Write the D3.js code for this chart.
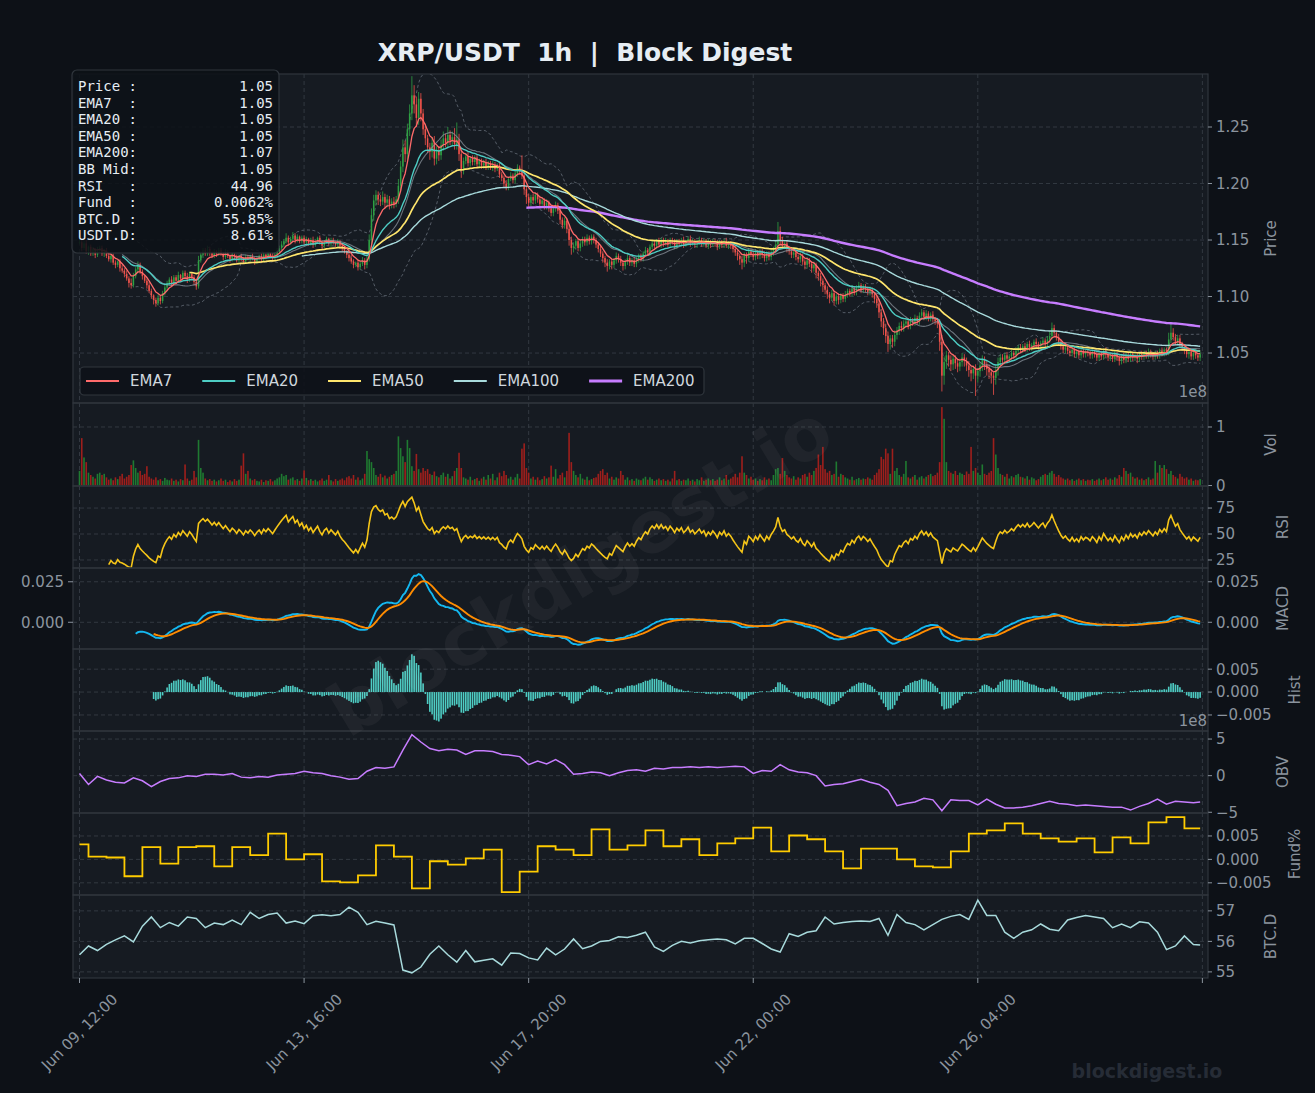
<!DOCTYPE html>
<html lang="en">
<head>
<meta charset="UTF-8">
<title>XRP/USDT 1h | Block Digest</title>
<script src="https://d3js.org/d3.v7.min.js"></script>
<style>
  html, body { margin: 0; padding: 0; background: #0d1117; }
  svg { display: block; }
</style>
</head>
<body>
<div id="chart"></div>
<script>
// ---- data: 500 hourly bars starting Jun 09, 12:00 ----
var closes = [
1.148,1.143,1.147,1.140,1.144,1.138,1.142,1.137,1.141,1.143,
1.138,1.141,1.136,1.133,1.136,1.130,1.128,1.131,1.125,1.123,
1.120,1.116,1.112,1.110,1.118,1.124,1.128,1.122,1.118,1.114,
1.110,1.105,1.101,1.097,1.094,1.099,1.096,1.103,1.108,1.112,
1.115,1.112,1.117,1.114,1.119,1.116,1.121,1.118,1.115,1.120,
1.117,1.113,1.109,1.132,1.137,1.141,1.138,1.142,1.139,1.136,
1.140,1.137,1.141,1.138,1.135,1.139,1.136,1.133,1.137,1.135,
1.132,1.136,1.134,1.131,1.135,1.133,1.136,1.134,1.131,1.134,
1.136,1.133,1.137,1.135,1.138,1.136,1.134,1.137,1.140,1.143,
1.146,1.149,1.152,1.148,1.151,1.154,1.150,1.153,1.149,1.152,
1.148,1.151,1.147,1.150,1.146,1.149,1.152,1.148,1.145,1.149,
1.151,1.147,1.150,1.148,1.146,1.149,1.145,1.142,1.140,1.137,
1.134,1.131,1.128,1.130,1.126,1.129,1.132,1.128,1.133,1.150,
1.172,1.185,1.190,1.186,1.184,1.188,1.183,1.186,1.181,1.184,
1.182,1.186,1.198,1.215,1.232,1.226,1.248,1.262,1.278,1.270,
1.258,1.275,1.262,1.248,1.240,1.232,1.228,1.236,1.222,1.229,
1.225,1.234,1.240,1.236,1.243,1.238,1.241,1.235,1.239,1.226,
1.212,1.220,1.224,1.218,1.222,1.219,1.223,1.217,1.220,1.216,
1.219,1.215,1.218,1.214,1.217,1.213,1.216,1.208,1.205,1.200,
1.197,1.204,1.207,1.203,1.209,1.214,1.211,1.207,1.195,1.188,
1.183,1.188,1.185,1.190,1.186,1.182,1.185,1.180,1.183,1.178,
1.174,1.178,1.181,1.176,1.168,1.163,1.167,1.160,1.150,1.143,
1.145,1.149,1.143,1.147,1.151,1.148,1.152,1.149,1.153,1.150,
1.146,1.142,1.138,1.134,1.130,1.127,1.131,1.128,1.132,1.136,
1.133,1.130,1.127,1.131,1.134,1.130,1.132,1.129,1.133,1.136,
1.134,1.138,1.141,1.139,1.144,1.147,1.145,1.149,1.146,1.150,
1.147,1.149,1.146,1.150,1.148,1.145,1.149,1.147,1.150,1.146,
1.148,1.151,1.147,1.149,1.146,1.148,1.150,1.147,1.149,1.145,
1.148,1.146,1.149,1.147,1.144,1.148,1.146,1.149,1.145,1.147,
1.145,1.142,1.139,1.136,1.133,1.130,1.137,1.134,1.140,1.138,
1.135,1.139,1.136,1.140,1.137,1.134,1.138,1.135,1.139,1.142,
1.146,1.158,1.150,1.145,1.147,1.142,1.140,1.137,1.139,1.135,
1.133,1.136,1.131,1.128,1.132,1.129,1.125,1.128,1.121,1.118,
1.114,1.110,1.106,1.102,1.099,1.103,1.096,1.100,1.097,1.101,
1.098,1.102,1.105,1.103,1.107,1.104,1.108,1.110,1.106,1.109,
1.107,1.104,1.106,1.102,1.098,1.094,1.086,1.078,1.072,1.065,
1.058,1.063,1.060,1.066,1.070,1.074,1.072,1.076,1.078,1.074,
1.079,1.077,1.081,1.078,1.083,1.086,1.082,1.085,1.081,1.084,
1.080,1.078,1.076,1.060,1.030,1.042,1.048,1.044,1.040,1.045,
1.041,1.038,1.042,1.046,1.043,1.039,1.035,1.032,1.036,1.030,
1.034,1.039,1.044,1.040,1.036,1.033,1.030,1.028,1.035,1.042,
1.046,1.044,1.048,1.045,1.047,1.050,1.048,1.052,1.055,1.053,
1.056,1.054,1.058,1.055,1.057,1.060,1.058,1.056,1.059,1.061,
1.058,1.062,1.065,1.072,1.068,1.064,1.060,1.056,1.053,1.055,
1.052,1.050,1.053,1.049,1.051,1.048,1.052,1.049,1.051,1.050,
1.048,1.051,1.049,1.046,1.050,1.047,1.052,1.049,1.046,1.048,
1.045,1.049,1.046,1.043,1.047,1.044,1.048,1.045,1.049,1.046,
1.048,1.045,1.049,1.047,1.050,1.048,1.051,1.049,1.047,1.050,
1.048,1.052,1.050,1.053,1.051,1.062,1.068,1.064,1.060,1.063,
1.058,1.055,1.052,1.049,1.051,1.047,1.050,1.048,1.046,1.049
];

// upper / lower wick beyond the body, in 0.001 price units
var wickHi = [
3,2,2,3,1,2,2,1,3,2, 2,1,2,3,1,2,2,1,2,3, 2,3,2,4,3,2,3,2,2,1, 2,3,2,1,2,3,2,2,3,2,
2,3,2,2,3,1,2,2,3,2, 1,2,2,4,3,2,2,3,2,1, 2,1,2,2,1,3,2,1,2,1, 2,1,2,1,2,2,1,2,1,2,
1,2,2,1,2,1,2,2,3,2, 3,2,4,2,2,3,2,2,1,2, 2,2,1,2,3,2,1,2,2,1, 2,1,2,2,1,2,1,2,2,1,
2,3,2,1,2,2,3,2,4,5, 6,5,4,3,4,5,3,4,3,3, 4,3,6,5,7,6,5,8,17,9, 7,6,5,4,5,3,4,5,6,4,
4,5,6,4,7,4,5,8,15,5, 4,3,3,4,2,3,2,3,2,2, 2,3,2,2,3,2,2,3,2,2, 3,2,3,2,4,3,2,14,4,3,
3,2,3,2,2,3,2,2,3,2, 3,2,3,2,3,2,3,2,4,3, 3,2,2,3,2,2,3,2,2,2, 2,2,3,2,2,3,2,2,2,3,
2,3,2,2,3,2,2,3,2,2, 2,2,3,2,2,3,2,2,3,2, 2,3,2,2,2,3,2,2,2,3, 2,2,3,2,2,2,3,2,2,2,
3,2,2,2,3,2,2,2,3,2, 2,2,3,2,2,3,2,2,3,2, 2,3,2,2,2,3,2,2,3,2, 3,8,4,3,2,3,2,2,3,2,
2,3,2,2,3,2,2,3,2,2, 3,2,2,3,2,3,2,2,3,2, 2,3,2,2,3,2,2,3,2,2, 2,2,3,2,2,3,4,3,3,4,
4,3,3,4,3,3,4,3,3,3, 3,2,3,2,3,3,2,3,2,2, 3,2,2,4,6,5,4,3,4,3, 3,4,3,4,3,3,4,3,3,4,
3,3,4,3,3,4,3,3,4,4, 3,3,2,3,2,3,2,3,2,3, 2,3,2,3,2,2,3,2,2,3, 2,3,4,5,3,2,3,2,2,2,
2,2,3,2,2,2,3,2,2,2, 2,2,2,3,2,2,2,3,2,2, 2,3,2,2,2,3,2,2,3,2, 2,2,2,3,2,2,3,2,2,2,
2,2,3,2,2,6,9,4,3,3, 3,2,2,3,2,2,3,2,2,2
];
var wickLo = [
2,3,2,2,3,2,2,3,2,2, 2,3,2,2,3,2,3,2,3,2, 3,2,4,3,2,2,3,2,3,2, 3,2,3,4,3,2,3,2,2,3,
2,3,2,3,2,3,2,2,3,2, 2,3,3,2,2,3,2,2,3,2, 2,2,1,2,3,2,2,3,2,2, 2,2,3,2,2,1,2,2,3,2,
2,3,2,2,1,2,3,2,2,2, 2,2,2,3,2,2,3,2,2,2, 3,2,2,2,3,2,2,2,3,2, 2,2,3,2,2,2,3,2,2,3,
3,2,3,2,3,2,2,4,3,2, 4,5,4,5,4,3,5,4,4,3, 4,3,4,5,5,7,5,6,6,8, 8,6,7,5,6,5,7,5,6,5,
5,4,5,4,5,4,4,5,5,6, 7,4,3,3,3,3,3,3,3,3, 3,3,3,2,3,3,2,3,3,3, 3,3,2,3,3,3,3,3,5,6,
4,3,3,3,3,3,3,3,3,3, 3,3,3,3,4,3,3,4,5,6, 4,3,3,3,3,3,3,3,3,3, 3,3,3,4,4,5,3,4,3,3,
3,3,4,3,3,3,3,3,3,3, 3,3,2,3,3,2,3,3,2,3, 3,2,3,3,2,3,3,2,3,3, 2,3,3,2,3,3,2,3,3,2,
3,3,2,3,3,2,3,3,2,3, 3,3,3,4,5,6,4,5,3,3, 3,3,3,3,3,3,3,3,3,3, 3,3,4,3,3,3,3,3,3,3,
3,3,3,4,3,3,4,3,5,4, 5,6,4,4,5,3,4,3,4,3, 3,3,3,3,3,3,3,3,3,3, 3,3,3,3,4,4,5,5,6,6,
7,5,5,4,4,4,3,3,3,3, 3,3,3,3,3,3,3,3,3,3, 3,3,4,8,14,8,6,6,6,5, 5,5,4,4,5,5,6,7,5,18,
6,5,5,5,6,6,7,15,6,5, 4,4,4,4,3,3,3,3,3,3, 3,3,3,3,3,3,3,3,3,3, 3,3,3,3,3,3,3,3,3,3,
3,3,3,3,3,3,3,3,3,3, 3,3,3,3,3,3,3,3,3,3, 3,3,3,4,3,3,3,3,3,3, 3,4,3,3,3,3,3,3,3,3,
3,3,3,3,3,3,3,3,3,3, 3,3,3,3,4,3,3,3,3,3
];

// volume, millions
var volume = [
25,81,48,40,22,18,15,12,20,22, 18,20,14,10,12,9,14,11,16,20, 12,15,18,35,43,30,22,25,18,20,
33,15,12,10,14,9,11,8,13,10, 9,12,8,10,7,11,9,36,12,8, 10,25,14,78,30,22,12,9,11,8,
10,7,9,12,8,10,6,9,7,11, 8,10,34,55,20,25,12,9,11,8, 7,10,6,9,8,11,7,9,12,14,
20,16,18,10,12,14,9,11,8,12, 26,13,9,11,8,10,7,9,12,8, 10,18,9,7,11,8,10,12,9,14,
16,12,18,10,14,9,12,20,59,45, 40,30,18,15,20,14,17,12,15,18, 20,25,84,64,50,40,78,64,33,25,
54,28,22,30,25,28,20,18,24,16, 14,18,22,15,20,12,16,25,30,56, 30,14,12,10,15,9,11,13,8,12,
15,10,18,12,20,9,14,22,16,25, 18,12,15,10,14,20,12,63,72,30, 22,12,15,10,14,9,11,16,12,14,
34,15,28,12,18,22,14,25,90,40, 25,18,14,20,12,10,15,9,11,13, 14,20,25,28,18,22,12,15,10,14,
12,25,18,10,14,9,11,8,12,10, 9,12,15,10,14,11,8,10,12,9, 11,8,10,7,12,25,9,11,8,10,
9,12,8,10,7,11,9,14,8,10, 12,9,11,8,10,14,9,12,18,10, 12,15,20,14,22,50,22,18,12,15,
10,12,8,11,9,14,10,12,9,18, 28,30,20,47,25,18,14,12,16,10, 14,12,18,20,15,22,18,25,30,53,
35,66,28,22,25,18,20,41,15,20, 18,14,12,10,15,9,11,13,10,12, 11,14,12,10,18,22,28,49,45,63,
55,20,63,25,30,18,15,20,42,14, 12,15,18,10,14,16,12,15,18,20, 16,18,22,40,134,114,40,25,22,20,
25,18,22,20,18,24,20,66,25,30, 22,18,36,20,18,22,25,81,53,30, 20,18,15,20,12,16,14,18,20,15,
14,12,16,10,14,12,9,11,15,18, 20,18,22,25,20,15,18,14,12,10, 12,9,11,8,10,12,9,11,8,10,
9,11,8,10,12,9,11,14,10,12, 10,14,12,18,15,30,25,20,22,15, 12,14,10,12,9,11,14,10,12,42,
22,35,30,35,28,20,25,18,15,12, 20,15,12,14,10,12,8,10,9,11
];

// OBV (x 1e8), one reading every 4 bars, last one at the final bar
var obv = [
0.3,-1.2,-0.1,-0.6,-0.9,-1.0,-0.3,-0.7,-1.5,-0.8,
-0.4,-0.3,0.0,-0.1,0.2,0.2,0.1,0.3,-0.2,-0.3,
-0.1,-0.2,0.1,0.2,0.3,0.6,0.4,0.3,0.0,-0.2,
-0.5,-0.4,0.6,1.1,1.0,1.2,3.5,5.6,4.6,3.7,
3.4,3.6,3.5,2.9,3.4,3.4,3.3,2.9,2.8,2.6,
1.5,2.0,1.6,2.2,1.5,0.2,0.3,0.5,0.4,0.0,
0.4,0.7,0.8,0.6,1.0,0.9,1.1,1.1,1.2,1.1,
1.2,1.1,1.2,1.3,1.2,0.3,0.7,0.6,1.5,0.8,
0.5,0.4,0.0,-1.4,-1.2,-1.1,-0.8,-0.5,-0.9,-1.2,
-2.0,-4.1,-3.8,-3.6,-3.1,-3.3,-4.8,-3.3,-3.4,-3.4,
-4.0,-3.2,-3.9,-4.4,-4.4,-4.3,-4.1,-3.8,-3.5,-3.8,
-3.9,-4.1,-4.0,-4.1,-4.2,-4.3,-4.3,-4.7,-4.2,-3.8,
-3.2,-3.9,-3.5,-3.6,-3.7,-3.6
];

// BTC dominance %, one reading every 4 bars, last one at the final bar
var btcDom = [
55.56,55.85,55.70,55.90,56.05,56.18,55.98,56.50,56.80,56.45,
56.62,56.50,56.80,56.75,56.45,56.60,56.55,56.70,56.55,56.95,
56.75,56.88,56.93,56.60,56.67,56.58,56.84,56.87,56.84,56.88,
57.12,56.95,56.55,56.66,56.60,56.54,55.06,54.97,55.16,55.58,
55.85,55.56,55.32,55.70,55.33,55.38,55.43,55.22,55.62,55.60,
55.46,55.39,55.78,55.56,55.75,56.08,55.76,55.85,56.00,56.03,
56.15,56.13,56.20,56.30,55.82,55.67,55.87,56.00,55.95,56.02,
56.05,56.08,56.05,55.92,56.10,56.10,55.93,55.75,55.65,56.25,
56.16,56.30,56.35,56.80,56.57,56.62,56.65,56.67,56.65,56.75,
56.20,56.88,56.62,56.55,56.38,56.55,56.72,56.82,56.88,56.72,
57.35,56.85,56.85,56.30,56.10,56.30,56.38,56.57,56.40,56.35,
56.70,56.78,56.85,56.80,56.75,56.45,56.57,56.45,56.64,56.60,
56.30,55.73,55.85,56.18,55.90,55.88
];

// funding rate %, first value until 16:00, then one per 8h period
var funding = [
0.0032,
0.0006,0.0004,-0.0036,0.0026,-0.0009,0.0026,0.0028,-0.0015,0.0026,0.0009,
0.0055,0.0000,0.0011,-0.0047,-0.0049,-0.0034,0.0030,0.0006,-0.0062,-0.0004,
-0.0011,0.0002,0.0021,-0.0070,-0.0026,0.0028,0.0021,0.0009,0.0064,0.0021,
0.0030,0.0062,0.0028,0.0043,0.0009,0.0034,0.0045,0.0068,0.0017,0.0051,
0.0043,0.0017,-0.0019,0.0023,0.0023,0.0000,-0.0015,-0.0017,0.0017,0.0055,
0.0062,0.0077,0.0055,0.0045,0.0038,0.0045,0.0015,0.0047,0.0034,0.0079,
0.0090,0.0066
];

var xTicks = [0, 100, 200, 300, 400, 500];
var xTickLabels = ["Jun 09, 12:00", "Jun 13, 16:00", "Jun 17, 20:00", "Jun 22, 00:00", "Jun 26, 04:00", ""];

var emaSpans = [7, 20, 50, 100, 200];
var emaNames = ["EMA7", "EMA20", "EMA50", "EMA100", "EMA200"];

var infoLabels = ["Price :", "EMA7  :", "EMA20 :", "EMA50 :", "EMA200:", "BB Mid:", "RSI   :", "Fund  :", "BTC.D :", "USDT.D:"];
var infoValues = ["1.05", "1.05", "1.05", "1.05", "1.07", "1.05", "44.96", "0.0062%", "55.85%", "8.61%"];

// ---- styling ----
var emaColors = ["#ff6b6b", "#4ecdc4", "#ffe66d", "#a8dadc", "#c77dff"];
var emaWidths = [1.3, 1.4, 1.7, 1.4, 2.4];
var upColor = "#2ea043", downColor = "#f0524a";
var volUp = "#1f7a31", volDown = "#9e1f1c";
var gridColor = "#3a4049", tickColor = "#8b949e", spineColor = "#30363d";
var SANS = "DejaVu Sans, sans-serif", MONO = "DejaVu Sans Mono, monospace";
var FS = 15;

var W = 1315, H = 1093, L = 73, R = 1208;
var n = closes.length;

// ---- indicators ----
function emaSeries(src, span) {
    var a = 2 / (span + 1), prev = null;
    return src.map(function (v) {
        if (v == null) return null;
        prev = prev == null ? v : a * v + (1 - a) * prev;
        return prev;
    });
}
function fromIndex(arr, start) {
    return arr.map(function (v, i) { return i < start ? null : v; });
}

var emaLines = emaSpans.map(function (s) { return fromIndex(emaSeries(closes, s), s - 1); });

var bbMid = [], bbUp = [], bbLo = [];
closes.forEach(function (c, i) {
    if (i < 19) { bbMid.push(null); bbUp.push(null); bbLo.push(null); return; }
    var win = closes.slice(i - 19, i + 1);
    var m = d3.mean(win), sd = d3.deviation(win);
    bbMid.push(m); bbUp.push(m + 2 * sd); bbLo.push(m - 2 * sd);
});

var rsi = closes.map(function () { return null; });
var ag = 0, al = 0;
for (var i = 1; i < n; i++) {
    var dlt = closes[i] - closes[i - 1];
    var g = Math.max(dlt, 0), l = Math.max(-dlt, 0);
    if (i === 1) { ag = g; al = l; } else { ag += (g - ag) / 14; al += (l - al) / 14; }
    if (i >= 13) rsi[i] = al === 0 ? 100 : 100 - 100 / (1 + ag / al);
}

var e12 = emaSeries(closes, 12), e26 = emaSeries(closes, 26);
var macd = closes.map(function (c, i) { return i < 25 ? null : e12[i] - e26[i]; });
var signal = fromIndex(emaSeries(macd, 9), 33);
var hist = macd.map(function (v, i) { return signal[i] == null ? null : v - signal[i]; });

var candles = closes.map(function (c, i) {
    var o = i === 0 ? c : closes[i - 1];
    return { i: i, o: o, c: c, h: Math.max(o, c) + wickHi[i] / 1000, l: Math.min(o, c) - wickLo[i] / 1000 };
});

function sparseIndex(k) { return Math.min(k * 4, n - 1); }

var fundPts = funding.map(function (v, k) { return [k === 0 ? 0 : 4 + 8 * (k - 1), v]; });
fundPts.push([n - 1, funding[funding.length - 1]]);

// ---- layout ----
var fmt2 = d3.format(".2f"), fmt3 = d3.format(".3f"), fmtI = d3.format("d");
var panels = [
    { id: "price", top: 74, bottom: 403, domain: [1.0058, 1.2969], ticks: [1.05, 1.10, 1.15, 1.20, 1.25], fmt: fmt2, title: "Price", tx: 1271 },
    { id: "vol", top: 403, bottom: 486, domain: [-0.8, 141], ticks: [0, 100], fmt: function (d) { return fmtI(d / 100); }, title: "Vol", tx: 1271 },
    { id: "rsi", top: 486, bottom: 568, domain: [17.3, 96.2], ticks: [25, 50, 75], fmt: fmtI, title: "RSI", tx: 1283 },
    { id: "macd", top: 568, bottom: 649, domain: [-0.0165, 0.0335], ticks: [0, 0.025], fmt: fmt3, title: "MACD", tx: 1283 },
    { id: "hist", top: 649, bottom: 731, domain: [-0.0085, 0.0094], ticks: [-0.005, 0, 0.005], fmt: fmt3, title: "Hist", tx: 1295 },
    { id: "obv", top: 731, bottom: 813, domain: [-5.1, 6.1], ticks: [-5, 0, 5], fmt: fmtI, title: "OBV", tx: 1283 },
    { id: "fund", top: 813, bottom: 895, domain: [-0.0076, 0.0099], ticks: [-0.005, 0, 0.005], fmt: fmt3, title: "Fund%", tx: 1295 },
    { id: "btcd", top: 895, bottom: 978, domain: [54.8, 57.52], ticks: [55, 56, 57], fmt: fmtI, title: "BTC.D", tx: 1271 }
];
var P = {};
panels.forEach(function (p) {
    p.y = d3.scaleLinear().domain(p.domain).range([p.bottom, p.top]);
    P[p.id] = p;
});

var x = d3.scaleLinear().domain([-2.9, 502.5]).range([L, R]);

var svg = d3.select("#chart").append("svg")
    .attr("width", W).attr("height", H)
    .attr("font-family", SANS);

svg.append("rect").attr("width", W).attr("height", H).attr("fill", "#0d1117");

var defs = svg.append("defs");
panels.forEach(function (p) {
    defs.append("clipPath").attr("id", "clip-" + p.id)
        .append("rect").attr("x", L).attr("y", p.top).attr("width", R - L).attr("height", p.bottom - p.top);
    svg.append("rect").attr("x", L).attr("y", p.top).attr("width", R - L).attr("height", p.bottom - p.top)
        .attr("fill", "#161b22");
});

// grid
var grid = svg.append("g").attr("stroke", gridColor).attr("stroke-width", 0.8).attr("stroke-dasharray", "4,3");
panels.forEach(function (p) {
    p.ticks.forEach(function (t) {
        var yy = p.y(t);
        if (yy > p.bottom - 1.5) return;
        grid.append("line").attr("x1", L).attr("x2", R).attr("y1", yy).attr("y2", yy);
    });
    xTicks.forEach(function (t) {
        grid.append("line").attr("x1", x(t)).attr("x2", x(t)).attr("y1", p.top).attr("y2", p.bottom);
    });
});

function layer(id) { return svg.append("g").attr("clip-path", "url(#clip-" + id + ")"); }
function pts(arr) { return arr.map(function (v, i) { return [i, v]; }); }
function lineFor(p, curve) {
    return d3.line().defined(function (d) { return d[1] != null; })
        .x(function (d) { return x(d[0]); }).y(function (d) { return p.y(d[1]); })
        .curve(curve || d3.curveLinear);
}

// ---- price panel ----
var gp = layer("price");
var lp = lineFor(P.price);
[bbUp, bbLo].forEach(function (b) {
    gp.append("path").attr("d", lp(pts(b))).attr("fill", "none")
        .attr("stroke", "#6e7681").attr("stroke-width", 0.9).attr("stroke-dasharray", "3,2.5").attr("opacity", 0.8);
});

gp.selectAll("line.wick").data(candles).enter().append("line")
    .attr("x1", function (d) { return x(d.i); }).attr("x2", function (d) { return x(d.i); })
    .attr("y1", function (d) { return P.price.y(d.h); }).attr("y2", function (d) { return P.price.y(d.l); })
    .attr("stroke", function (d) { return d.c >= d.o ? upColor : downColor; }).attr("stroke-width", 0.8);
gp.selectAll("rect.body").data(candles).enter().append("rect")
    .attr("x", function (d) { return x(d.i) - 0.75; }).attr("width", 1.5)
    .attr("y", function (d) { return P.price.y(Math.max(d.o, d.c)); })
    .attr("height", function (d) { return Math.max(0.7, Math.abs(P.price.y(d.o) - P.price.y(d.c))); })
    .attr("fill", function (d) { return d.c >= d.o ? upColor : downColor; });

gp.append("path").attr("d", lp(pts(bbMid))).attr("fill", "none")
    .attr("stroke", "#8b949e").attr("stroke-width", 1.1).attr("opacity", 0.75);
for (var k = emaLines.length - 1; k >= 0; k--) {
    gp.append("path").attr("d", lp(pts(emaLines[k]))).attr("fill", "none")
        .attr("stroke", emaColors[k]).attr("stroke-width", emaWidths[k]);
}

// ---- volume ----
var gv = layer("vol");
gv.selectAll("rect").data(candles).enter().append("rect")
    .attr("x", function (d) { return x(d.i) - 0.8; }).attr("width", 1.6)
    .attr("y", function (d) { return P.vol.y(volume[d.i]); })
    .attr("height", function (d) { return P.vol.y(0) - P.vol.y(volume[d.i]); })
    .attr("fill", function (d) { return d.c >= d.o ? volUp : volDown; });

// ---- RSI ----
layer("rsi").append("path").attr("d", lineFor(P.rsi)(pts(rsi))).attr("fill", "none")
    .attr("stroke", "#f5c518").attr("stroke-width", 1.6);

// ---- MACD ----
var gm = layer("macd");
gm.append("path").attr("d", lineFor(P.macd)(pts(macd))).attr("fill", "none").attr("stroke", "#14b8f0").attr("stroke-width", 1.9);
gm.append("path").attr("d", lineFor(P.macd)(pts(signal))).attr("fill", "none").attr("stroke", "#ff8c00").attr("stroke-width", 1.9);

// ---- Hist ----
var gh = layer("hist");
gh.selectAll("rect").data(pts(hist).filter(function (d) { return d[1] != null; })).enter().append("rect")
    .attr("x", function (d) { return x(d[0]) - 0.8; }).attr("width", 1.6)
    .attr("y", function (d) { return Math.min(P.hist.y(d[1]), P.hist.y(0)); })
    .attr("height", function (d) { return Math.abs(P.hist.y(d[1]) - P.hist.y(0)); })
    .attr("fill", "#4ecdc4");

// ---- OBV ----
layer("obv").append("path")
    .attr("d", lineFor(P.obv)(obv.map(function (v, k) { return [sparseIndex(k), v]; })))
    .attr("fill", "none").attr("stroke", "#c77dff").attr("stroke-width", 1.5);

// ---- Funding ----
layer("fund").append("path")
    .attr("d", lineFor(P.fund, d3.curveStepAfter)(fundPts))
    .attr("fill", "none").attr("stroke", "#ffcc00").attr("stroke-width", 1.8);

// ---- BTC.D ----
layer("btcd").append("path")
    .attr("d", lineFor(P.btcd)(btcDom.map(function (v, k) { return [sparseIndex(k), v]; })))
    .attr("fill", "none").attr("stroke", "#a8dadc").attr("stroke-width", 1.5);

// ---- frames, axes ----
panels.forEach(function (p) {
    svg.append("rect").attr("x", L).attr("y", p.top).attr("width", R - L).attr("height", p.bottom - p.top)
        .attr("fill", "none").attr("stroke", spineColor).attr("stroke-width", 1.2);
    p.ticks.forEach(function (t) {
        var yy = p.y(t);
        svg.append("line").attr("x1", R).attr("x2", R + 4).attr("y1", yy).attr("y2", yy).attr("stroke", tickColor);
        svg.append("text").attr("x", R + 8).attr("y", yy).attr("dy", "0.36em")
            .attr("font-size", FS).attr("fill", tickColor).text(p.fmt(t));
    });
    svg.append("text")
        .attr("transform", "translate(" + p.tx + "," + ((p.top + p.bottom) / 2) + ") rotate(-90)")
        .attr("text-anchor", "middle").attr("dy", "0.36em").attr("font-size", FS).attr("fill", tickColor).text(p.title);
});

// MACD also labelled on the left
P.macd.ticks.forEach(function (t) {
    var yy = P.macd.y(t);
    svg.append("line").attr("x1", L - 5).attr("x2", L).attr("y1", yy).attr("y2", yy).attr("stroke", tickColor);
    svg.append("text").attr("x", L - 9).attr("y", yy).attr("dy", "0.36em").attr("text-anchor", "end")
        .attr("font-size", FS).attr("fill", tickColor).text(fmt3(t));
});

// offset texts
[[P.price.bottom - 11, "1e8"], [P.hist.bottom - 10, "1e8"]].forEach(function (o) {
    svg.append("text").attr("x", R - 1).attr("y", o[0]).attr("dy", "0.36em").attr("text-anchor", "end")
        .attr("font-size", FS).attr("fill", tickColor).text(o[1]);
});

// x axis
xTicks.forEach(function (t, k) {
    svg.append("line").attr("x1", x(t)).attr("x2", x(t)).attr("y1", 978).attr("y2", 983).attr("stroke", tickColor);
    svg.append("text")
        .attr("transform", "translate(" + x(t) + ",1032) rotate(-45)")
        .attr("text-anchor", "middle").attr("dy", "0.35em")
        .attr("font-size", FS).attr("fill", tickColor).text(xTickLabels[k]);
});

// title
svg.append("text").attr("x", 585).attr("y", 61).attr("text-anchor", "middle")
    .attr("font-size", 25).attr("font-weight", "bold").attr("fill", "#e6edf3")
    .style("white-space", "pre").text("XRP/USDT  1h  |  Block Digest");

// info box
svg.append("rect").attr("x", 72).attr("y", 70).attr("width", 207).attr("height", 183).attr("rx", 5)
    .attr("fill", "#0d1117").attr("fill-opacity", 0.88).attr("stroke", spineColor).attr("stroke-width", 1.2);
var infoStep = 16.6, infoFs = 14;
infoLabels.forEach(function (lab, k) {
    var yy = 91 + infoStep * k;
    svg.append("text").attr("x", 78).attr("y", yy).style("white-space", "pre")
        .attr("font-family", MONO).attr("font-size", infoFs).attr("fill", "#e6edf3").text(lab);
    svg.append("text").attr("x", 273).attr("y", yy).attr("text-anchor", "end")
        .attr("font-family", MONO).attr("font-size", infoFs).attr("fill", "#e6edf3").text(infoValues[k]);
});

// legend
var leg = svg.append("g");
leg.append("rect").attr("x", 80).attr("y", 367).attr("width", 624).attr("height", 28).attr("rx", 4)
    .attr("fill", "#0d1117").attr("fill-opacity", 0.85).attr("stroke", spineColor).attr("stroke-width", 1.2);
var lx = 86;
emaNames.forEach(function (name, k) {
    leg.append("line").attr("x1", lx).attr("x2", lx + 33).attr("y1", 381).attr("y2", 381)
        .attr("stroke", emaColors[k]).attr("stroke-width", k === 4 ? 2.8 : 2.2);
    var t = leg.append("text").attr("x", lx + 44).attr("y", 381).attr("dy", "0.36em")
        .attr("font-size", FS).attr("fill", "#d0d7de").text(name);
    lx = lx + 44 + t.node().getComputedTextLength() + 30;
});

// watermarks
svg.append("text").attr("transform", "translate(580,570) rotate(-31)")
    .attr("text-anchor", "middle").attr("dy", "0.35em")
    .attr("font-size", 72).attr("font-weight", "bold").attr("fill", "#ffffff").attr("fill-opacity", 0.045)
    .text("blockdigest.io");
svg.append("text").attr("x", 1147).attr("y", 1071).attr("text-anchor", "middle").attr("dy", "0.35em")
    .attr("font-size", 19).attr("font-weight", "bold").attr("fill", "#262c36")
    .text("blockdigest.io");
</script>
</body>
</html>
